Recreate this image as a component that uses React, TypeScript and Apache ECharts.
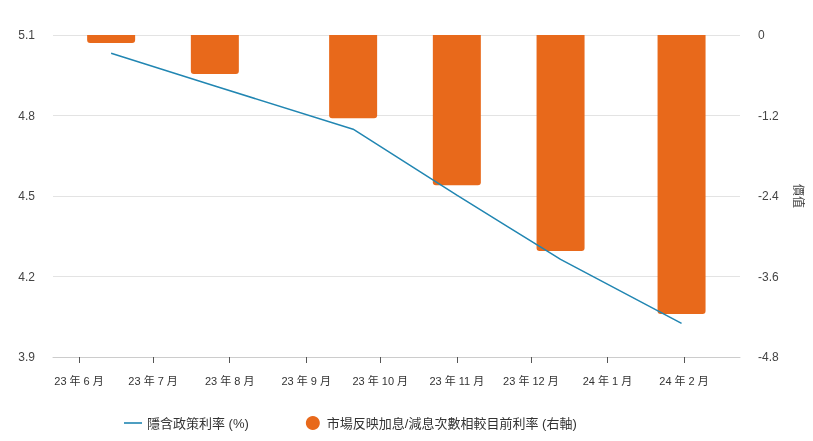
import React, { useEffect, useRef } from "react";
import * as echarts from "echarts";

const meetingDates: [number, number, number][] = [
  [2023, 6, 14],
  [2023, 7, 26],
  [2023, 9, 20],
  [2023, 11, 1],
  [2023, 12, 13],
  [2024, 1, 31],
];
const impliedRate = [5.032, 4.91, 4.749, 4.503, 4.264, 4.025];
const hikesCuts = [-0.12, -0.58, -1.24, -2.24, -3.22, -4.16];
const monthTicks: [number, number][] = [
  [2023, 6], [2023, 7], [2023, 8], [2023, 9], [2023, 10],
  [2023, 11], [2023, 12], [2024, 1], [2024, 2],
];
const leftTicks = { min: 3.9, max: 5.1, interval: 0.3 };
const rightTicks = { min: -4.8, max: 0, interval: 1.2 };
const lineName = "隱含政策利率 (%)";
const barName = "市場反映加息/減息次數相較目前利率 (右軸)";
const rightAxisName = "價值";

const ts = (y: number, m: number, d: number, h = 0) => new Date(y, m - 1, d, h).getTime();

export default function App() {
  const ref = useRef<HTMLDivElement>(null);
  useEffect(() => {
    if (!ref.current) return;
    const chart = echarts.init(ref.current, null, { renderer: "svg" });
    const xs = meetingDates.map(([y, m, d]) => ts(y, m, d));
    const tickVals = monthTicks.map(([y, m]) => ts(y, m, 1));
    const font = "'Liberation Sans', Arial, 'Noto Sans CJK TC', sans-serif";
    const lineColor = "#2186b2";
    chart.setOption({
      animation: false,
      textStyle: { fontFamily: font },
      grid: { left: 53, right: 73, top: 35, bottom: 84 },
      legend: {
        left: 119,
        top: 411,
        itemWidth: 18,
        itemHeight: 14,
        itemGap: 57,
        textStyle: { fontSize: 13, color: "#333", fontFamily: font },
        data: [
          { name: lineName, icon: "path://M0,0 L18,0 L18,1.6 L0,1.6 Z", itemStyle: { color: lineColor } },
          { name: barName, icon: "circle" },
        ],
      },
      xAxis: {
        type: "value",
        min: ts(2023, 5, 21, 11),
        max: ts(2024, 2, 23, 16),
        axisLine: { show: true, onZero: false, lineStyle: { color: "#cccccc" } },
        axisTick: {
          show: true,
          length: 6,
          lineStyle: { color: "#555" },
          customValues: tickVals,
        },
        axisLabel: {
          customValues: tickVals,
          margin: 18,
          fontSize: 11,
          color: "#333",
          hideOverlap: false,
          formatter: (v: number) => {
            const d = new Date(v);
            return `${d.getFullYear() % 100} 年 ${d.getMonth() + 1} 月`;
          },
        },
        splitLine: { show: false },
      },
      yAxis: [
        {
          type: "value",
          min: leftTicks.min,
          max: leftTicks.max,
          interval: leftTicks.interval,
          axisLine: { show: false },
          axisTick: { show: false },
          axisLabel: { margin: 18, fontSize: 12, color: "#444", formatter: (v: number) => v.toFixed(1) },
          splitLine: { lineStyle: { color: "#e3e3e3" } },
        },
        {
          type: "value",
          position: "right",
          min: rightTicks.min,
          max: rightTicks.max,
          interval: rightTicks.interval,
          name: rightAxisName,
          nameLocation: "middle",
          nameRotate: -90,
          nameGap: 52,
          nameTextStyle: { fontSize: 12, color: "#444" },
          axisLine: { show: false },
          axisTick: { show: false },
          axisLabel: {
            margin: 18,
            fontSize: 12,
            color: "#444",
            formatter: (v: number) => (v === 0 ? "0" : v.toFixed(1)),
          },
          splitLine: { show: false },
        },
      ],
      series: [
        {
          name: barName,
          type: "bar",
          yAxisIndex: 1,
          barWidth: 48,
          itemStyle: { color: "#e8691b", borderRadius: [0, 0, 3, 3] },
          data: xs.map((x, i) => [x, hikesCuts[i]]),
          z: 2,
        },
        {
          name: lineName,
          type: "line",
          yAxisIndex: 0,
          symbol: "none",
          lineStyle: { color: lineColor, width: 1.5 },
          itemStyle: { color: lineColor },
          data: xs.map((x, i) => [x, impliedRate[i]]),
          z: 3,
        },
      ],
    });
    return () => chart.dispose();
  }, []);
  return (
    <div
      ref={ref}
      style={{ position: "fixed", left: 0, top: 0, width: 813, height: 441 }}
    />
  );
}
